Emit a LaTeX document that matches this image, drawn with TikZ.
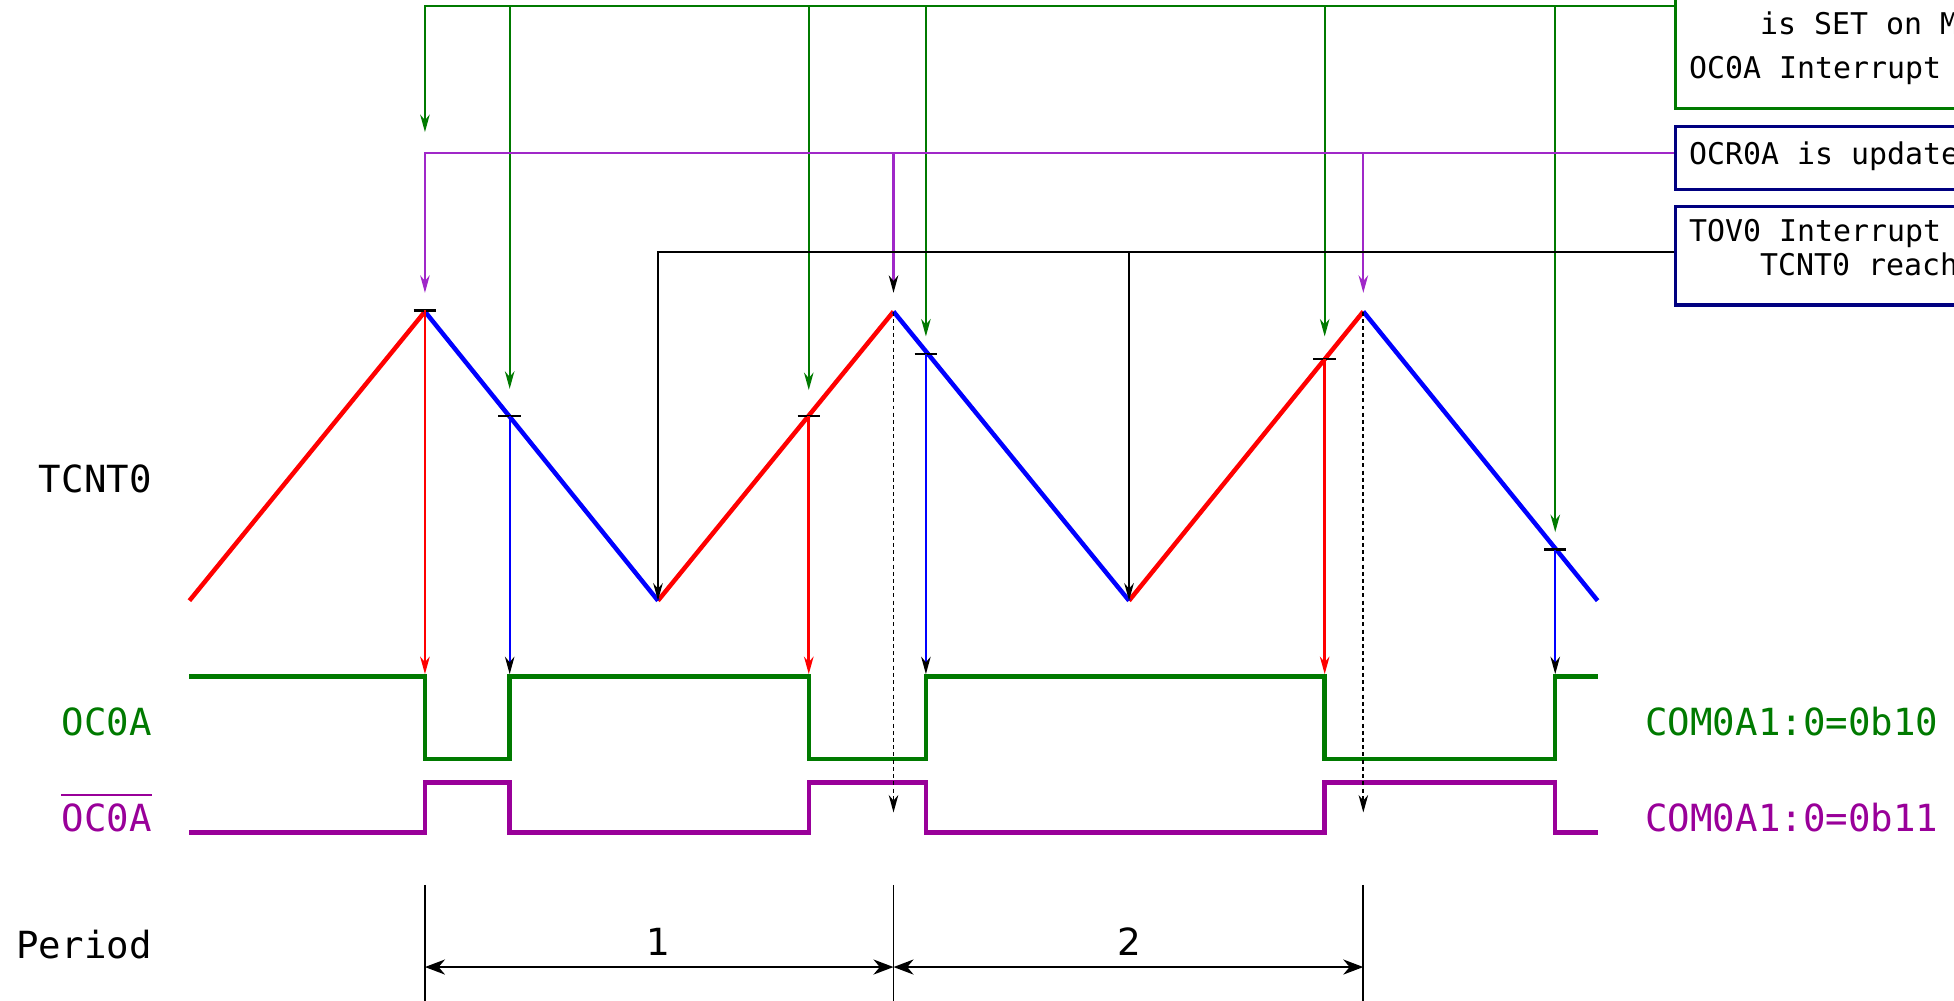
\documentclass[tikz,border=0pt]{standalone}
\usepackage{fontspec}
\setmainfont{DejaVu Sans}
\setmonofont{DejaVu Sans Mono}
\usetikzlibrary{arrows.meta, positioning, calc}

\definecolor{ocGreen}{RGB}{0,122,0}
\definecolor{ocPurple}{RGB}{153,0,153}
\definecolor{ocrViolet}{RGB}{160,40,200}
\definecolor{boxNavy}{RGB}{0,0,128}

\tikzset{
  wave/.style={line width=1.8pt},
  feed/.style={line width=0.9pt, -{Stealth[length=7pt, width=3.8pt, inset=2.2pt]}},
  tickmark/.style={line width=1pt},
  notebox/.style={draw=#1, line width=1.3pt, anchor=north west, minimum width=170pt, inner sep=0pt},
  notetext/.style={font=\ttfamily\fontsize{12}{14}\selectfont, anchor=base west, inner sep=0pt},
  sigtext/.style={font=\ttfamily\fontsize{15}{18}\selectfont, inner sep=0pt},
  span/.style={line width=1.1pt, {Stealth[length=8pt, width=6pt, inset=2.5pt]}-{Stealth[length=8pt, width=6pt, inset=2.5pt]}},
}

\begin{document}
\begin{tikzpicture}[x=0.5pt, y=-0.5pt]
  \useasboundingbox (0,0) rectangle (1568,803);
  \clip (0,0) rectangle (1568,803);

  % Note boxes, cut by the right edge
  \node[notebox=ocGreen, minimum height=58pt] (ocfbox) at (1343,-30) {};
  \node[notebox=boxNavy, minimum height=25.5pt] (ocrbox) at (1343,100) {};
  \node[notebox=boxNavy, minimum height=39.5pt] (tovbox) at (1343,164.5) {};
  \node[notetext] (ocf1) at (1412,28) {is SET on M};
  \node[notetext] (ocf2) at (1355,63) {OC0A Interrupt};
  \node[notetext] (ocr1) at (1355,132) {OCR0A is update};
  \node[notetext] (tov1) at (1355,194) {TOV0 Interrupt};
  \node[notetext] (tov2) at (1412,221) {TCNT0 reach};

  % TCNT0 turning points
  \foreach \n/\x/\y in {s0/152/482, p1/341/250, b1/528/482, p2/717/250,
                        b2/906/482, p3/1094/250, s1/1282/482}
    \coordinate (\n) at (\x,\y);

  % Compare match points
  \foreach \n/\x/\y in {m1/341/249, m2/409/334, m3/649/334,
                        m4/743/284, m5/1063/288, m6/1248/441}
    \coordinate (\n) at (\x,\y);

  % Counter ramps
  \draw[wave, red] (s0) -- (p1) (b1) -- (p2) (b2) -- (p3);
  \draw[wave, blue] (p1) -- (b1) (p2) -- (b2) (p3) -- (s1);
  \foreach \m in {m1,m2,m3,m4,m5,m6}
    \draw[tickmark] ([xshift=-4.5pt]\m) -- ([xshift=4.5pt]\m);

  % Green feeds from the interrupt flag box
  \draw[feed, ocGreen] (ocfbox.west |- 0,5) -| (m1 |- 0,106);
  \foreach \m/\tip in {m2/312, m3/313, m4/270, m5/270, m6/427}
    \draw[feed, ocGreen] (\m |- 0,5) -- (\m |- 0,\tip);

  % Violet feeds: OCR0A update at TOP
  \draw[feed, ocrViolet] (ocrbox.west |- 0,123) -| ([yshift=7.5pt]p1);
  \draw[ocrViolet, line width=0.9pt, -{Stealth[length=7pt, width=3.8pt, inset=2.2pt, color=black]}]
    (p2 |- 0,123) -- ([yshift=7.5pt]p2);
  \draw[feed, ocrViolet] (p3 |- 0,123) -- ([yshift=7.5pt]p3);

  % Black feeds: overflow at BOTTOM
  \draw[feed] (tovbox.west |- 0,202) -| (b1);
  \draw[feed] (b2 |- 0,202) -- (b2);

  % Match events down to the output
  \foreach \m in {m1,m3,m5}
    \draw[red, line width=1.1pt, -{Stealth[length=7pt, width=3.8pt, inset=2.2pt]}] (\m) -- (\m |- 0,541);
  \foreach \m in {m2,m4,m6}
    \draw[blue, line width=0.9pt, -{Stealth[length=7pt, width=3.8pt, inset=2.2pt, color=black]}] (\m) -- (\m |- 0,541);

  % Output waveforms
  \draw[wave, ocGreen] (152,543) -| (341,609) -| (409,543) -| (649,609)
    -| (743,543) -| (1063,609) -| (1248,543) -- (1282,543);
  \draw[wave, ocPurple] (152,668) -| (341,628) -| (409,668) -| (649,628)
    -| (743,668) -| (1063,628) -| (1248,668) -- (1282,668);

  % TOP markers
  \foreach \p in {p2,p3}
    \draw[feed, line width=0.7pt, dash pattern=on 1.6pt off 1.3pt] (\p) -- (\p |- 0,652);

  % Periods
  \foreach \p in {p1,p2,p3}
    \draw[line width=0.7pt] (\p |- 0,710) -- (\p |- 0,803);
  \draw[span] (p1 |- 0,776) -- (p2 |- 0,776);
  \draw[span] (p2 |- 0,776) -- (p3 |- 0,776);
  \node[font=\fontsize{15}{18}\selectfont, anchor=base, inner sep=0pt] (per1) at (b1 |- 0,767) {1};
  \node[font=\fontsize{15}{18}\selectfont, anchor=base, inner sep=0pt] (per2) at (b2 |- 0,767) {2};

  % Signal names
  \node[sigtext, anchor=base east] (tcnt) at (122,395) {TCNT0};
  \node[sigtext, anchor=base east, text=ocGreen] (ocout) at (122,590) {OC0A};
  \node[sigtext, anchor=base east, text=ocPurple] (ocbar) at (122,667) {OC0A};
  \draw[ocPurple, line width=1.1pt] ([yshift=3.2pt]ocbar.north west) -- ([yshift=3.2pt]ocbar.north east);
  \node[sigtext, anchor=base east] (period) at (122,769) {Period};
  \node[sigtext, anchor=base west, text=ocGreen] (com10) at (1320,590) {COM0A1:0=0b10};
  \node[sigtext, anchor=base west, text=ocPurple] (com11) at (1320,667) {COM0A1:0=0b11};
\end{tikzpicture}
\end{document}
